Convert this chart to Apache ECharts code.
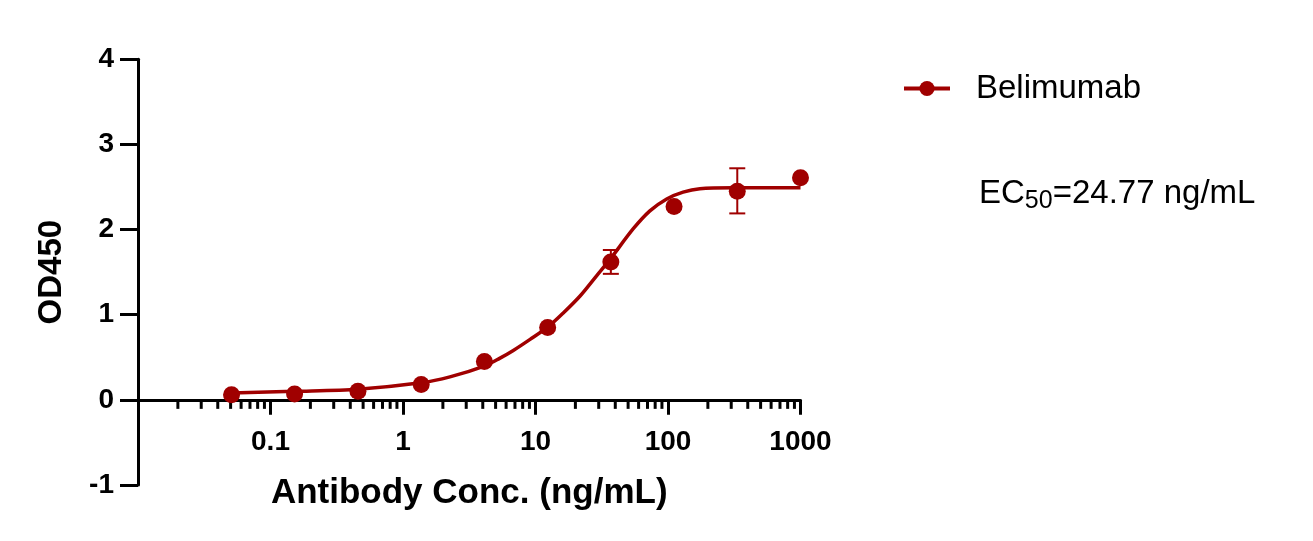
<!DOCTYPE html>
<html>
<head>
<meta charset="utf-8">
<script src="https://cdn.jsdelivr.net/npm/echarts@6/dist/echarts.min.js"></script>
<style>
html,body{margin:0;padding:0;background:#fff;}
#chart{width:1313px;height:541px;}
</style>
</head>
<body>
<div id="chart"></div>
<script>
// ---- data ----
const seriesName = 'Belimumab';
const concentrations = [0.0508, 0.152, 0.457, 1.372, 4.115, 12.35, 37.04, 111.1, 333.3, 1000];
const od450 = [0.06, 0.07, 0.10, 0.18, 0.45, 0.85, 1.62, 2.27, 2.45, 2.61];
const errConc = [37.04, 333.3];
const errLow = [1.48, 2.19];
const errHigh = [1.76, 2.72];
const fitConc = [0.0508, 0.152, 0.457, 1.37, 2.26, 4.16, 5.4, 6.8, 9.1, 12.5, 16.2, 21.7, 29, 36.5, 54.7, 73, 97.8, 130, 174, 312, 1000];
const fitOD = [0.08, 0.10, 0.125, 0.20, 0.27, 0.40, 0.49, 0.58, 0.71, 0.86, 1.02, 1.22, 1.46, 1.65, 2.01, 2.22, 2.36, 2.44, 2.48, 2.49, 2.49];
const yTicks = [-1, 0, 1, 2, 3, 4];
const xTickLabels = ['0.1', '1', '10', '100', '1000'];
const minorMantissas = [2, 3, 4, 5, 6, 7, 8, 9];
const decades = [0.01, 0.1, 1, 10, 100];
const ec50Text = '=24.77 ng/mL';

const RED = '#a00000';
const FONT = 'Liberation Sans, Arial, sans-serif';
const minorTicks = [];
decades.forEach(d => minorMantissas.forEach(m => minorTicks.push([+(m * d).toPrecision(3)])));

const GRID_TOP = 59.3, GRID_BOTTOM_Y = 485, CANVAS_H = 541;
// place the x axis on y = 0 (y axis spans -1..4) by offsetting it up from the grid bottom
const zeroFrac = (0 - yTicks[0]) / (yTicks[yTicks.length - 1] - yTicks[0]);
const xAxisOffset = -zeroFrac * (GRID_BOTTOM_Y - GRID_TOP);

const chart = echarts.init(document.getElementById('chart'));
chart.setOption({
  animation: false,
  backgroundColor: '#fff',
  grid: { left: 138, right: 512.5, top: GRID_TOP, bottom: CANVAS_H - GRID_BOTTOM_Y, containLabel: false, outerBoundsMode: 'none' },
  legend: {
    data: [seriesName],
    left: 902, top: 72, padding: 0,
    itemWidth: 46, itemHeight: 19,
    lineStyle: { width: 4 },
    textStyle: { fontFamily: FONT, fontSize: 33, color: '#000', padding: [0, 0, 0, 21] }
  },
  xAxis: {
    type: 'log', logBase: 10, min: 0.01, max: 1000,
    offset: xAxisOffset,
    name: 'Antibody Conc. (ng/mL)', nameLocation: 'middle', nameGap: 76,
    nameTextStyle: { fontFamily: FONT, fontSize: 35, fontWeight: 'bold', color: '#000' },
    axisLine: { onZero: false, lineStyle: { color: '#000', width: 3 } },
    axisTick: { show: true, length: 15, lineStyle: { color: '#000', width: 3 } },
    axisLabel: {
      margin: 28, fontFamily: FONT, fontSize: 28, fontWeight: 'bold', color: '#000',
      formatter: v => { const s = String(+v.toPrecision(6)); return xTickLabels.indexOf(s) >= 0 ? s : ''; }
    },
    splitLine: { show: false }
  },
  yAxis: {
    type: 'value', min: yTicks[0], max: yTicks[yTicks.length - 1], interval: 1,
    name: 'OD450', nameLocation: 'middle', nameGap: 70,
    nameTextStyle: { fontFamily: FONT, fontSize: 33, fontWeight: 'bold', color: '#000' },
    axisLine: { show: true, onZero: false, lineStyle: { color: '#000', width: 3 } },
    axisTick: { show: true, length: 18, lineStyle: { color: '#000', width: 3 } },
    axisLabel: { margin: 24, fontFamily: FONT, fontSize: 28, fontWeight: 'bold', color: '#000' },
    splitLine: { show: false }
  },
  series: [
    {
      name: seriesName, type: 'line', smooth: 0.3, showSymbol: false, symbol: 'circle', symbolSize: 17,
      data: fitConc.map((c, i) => [c, fitOD[i]]),
      lineStyle: { color: RED, width: 3.5 }, itemStyle: { color: RED }, z: 3
    },
    {
      name: seriesName, type: 'scatter', symbol: 'circle', symbolSize: 17,
      data: concentrations.map((c, i) => [c, od450[i]]),
      itemStyle: { color: RED, opacity: 1 }, z: 4
    },
    {
      type: 'custom', z: 4,
      data: errConc.map((c, i) => [c, errLow[i], errHigh[i]]),
      renderItem: (params, api) => {
        const lo = api.coord([api.value(0), api.value(1)]);
        const hi = api.coord([api.value(0), api.value(2)]);
        const w = 8;
        const st = { stroke: RED, lineWidth: 2 };
        return { type: 'group', children: [
          { type: 'line', shape: { x1: lo[0], y1: lo[1], x2: hi[0], y2: hi[1] }, style: st },
          { type: 'line', shape: { x1: lo[0] - w, y1: lo[1], x2: lo[0] + w, y2: lo[1] }, style: st },
          { type: 'line', shape: { x1: hi[0] - w, y1: hi[1], x2: hi[0] + w, y2: hi[1] }, style: st }
        ]};
      }
    },
    {
      type: 'custom', z: 2, silent: true,
      data: minorTicks,
      renderItem: (params, api) => {
        const p = api.coord([api.value(0), 0]);
        return { type: 'line', shape: { x1: p[0], y1: p[1], x2: p[0], y2: p[1] + 9 }, style: { stroke: '#000', lineWidth: 3 } };
      }
    }
  ],
  graphic: [
    {
      type: 'text', left: 979, top: 177,
      style: {
        text: '{a|EC}{b|50}{a|' + ec50Text + '}',
        rich: {
          a: { fontFamily: FONT, fontSize: 33, lineHeight: 40, verticalAlign: 'middle', fill: '#000', color: '#000' },
          b: { fontFamily: FONT, fontSize: 25, lineHeight: 24, verticalAlign: 'bottom', fill: '#000', color: '#000' }
        }
      }
    }
  ]
});
</script>
</body>
</html>
